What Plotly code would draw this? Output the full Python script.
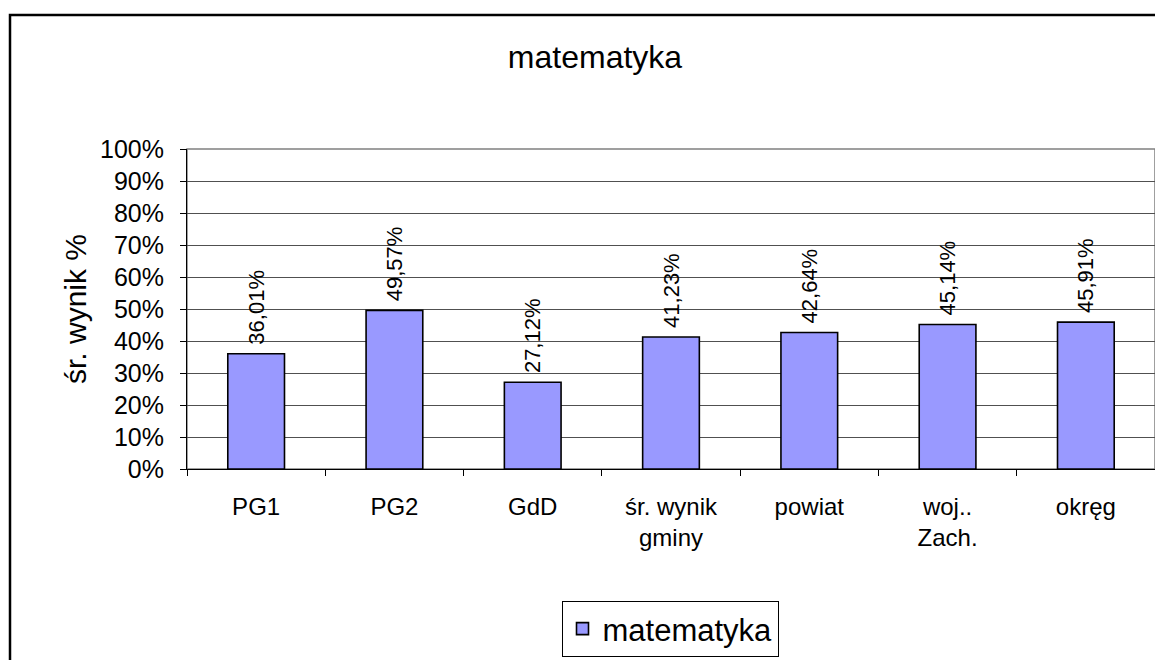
import plotly.graph_objects as go

categories = ["PG1", "PG2", "GdD", "śr. wynik<br>gminy", "powiat", "woj..<br>Zach.", "okręg"]
values = [0.3601, 0.4957, 0.2712, 0.4123, 0.4264, 0.4514, 0.4591]
value_labels = ["36,01%", "49,57%", "27,12%", "41,23%", "42,64%", "45,14%", "45,91%"]
series_name = "matematyka"
chart_title = "matematyka"
y_title = "śr. wynik %"

FONT = "Liberation Sans, Arial, sans-serif"

# page body has an 8px margin; figure coordinates = screen coordinates - 8
OFF = 8
W, H = 1163 - OFF, 660 - OFF
L, T = 187 - OFF, 149 - OFF
RIGHT, BOTTOM = 1155 - OFF, 469 - OFF
R, B = W - RIGHT, H - BOTTOM
pw, ph = W - L - R, H - T - B


def px_x(sx):
    return (sx - OFF - L) / pw


def px_y(sy):
    return (BOTTOM - (sy - OFF)) / ph


fig = go.Figure()
fig.add_trace(go.Bar(
    x=categories, y=values, name=series_name,
    marker=dict(color="#9999FF", line=dict(color="#000000", width=1.6)),
    text=["\u00a0" + t for t in value_labels],
    textposition="outside", textangle=-90, constraintext="none",
    textfont=dict(family=FONT, size=22, color="#000000"),
    cliponaxis=False, showlegend=True,
))

fig.update_layout(
    width=W, height=H,
    margin=dict(l=L, r=R, t=T, b=B, autoexpand=False),
    paper_bgcolor="white", plot_bgcolor="white",
    font=dict(family=FONT, color="#000000"),
    bargap=0.59,
    title=dict(text=chart_title, x=(595 - OFF) / W, xanchor="center",
               y=1 - (57 - OFF) / H, yanchor="middle",
               font=dict(family=FONT, size=32, color="#000000")),
    showlegend=True,
    legend=dict(orientation="h", x=px_x(670), xanchor="center",
                y=px_y(601), yanchor="top",
                bordercolor="#000000", borderwidth=1,
                font=dict(family=FONT, size=31, color="#000000"),
                itemwidth=30),
)

fig.update_xaxes(
    showgrid=False, tickson="boundaries", ticks="outside", ticklen=6, tickcolor="#000000",
    showline=True, linecolor="#000000", linewidth=1,
    tickfont=dict(family=FONT, size=24, color="#000000"),
    ticklabelstandoff=16, tickangle=0, fixedrange=True,
)
fig.update_yaxes(
    range=[0, 1], dtick=0.1, tickformat=".0%",
    showgrid=True, gridcolor="#505050", gridwidth=1,
    ticks="outside", ticklen=6, tickcolor="#000000",
    showline=True, linecolor="#000000", linewidth=1,
    tickfont=dict(family=FONT, size=25, color="#000000"),
    ticklabelstandoff=11, zeroline=False,
    title=dict(text=y_title, font=dict(family=FONT, size=30, color="#000000"), standoff=4),
)

# plot area border (gray top/right)
fig.add_shape(type="rect", xref="paper", yref="paper", x0=0, x1=1, y0=0, y1=1,
              line=dict(color="#808080", width=1.5), layer="below")
# outer chart border
fig.add_shape(type="rect", xref="paper", yref="paper",
              x0=px_x(10), x1=px_x(1185),
              y0=px_y(690), y1=px_y(15),
              line=dict(color="#000000", width=2.5), layer="above")

fig.write_html("out.html")
